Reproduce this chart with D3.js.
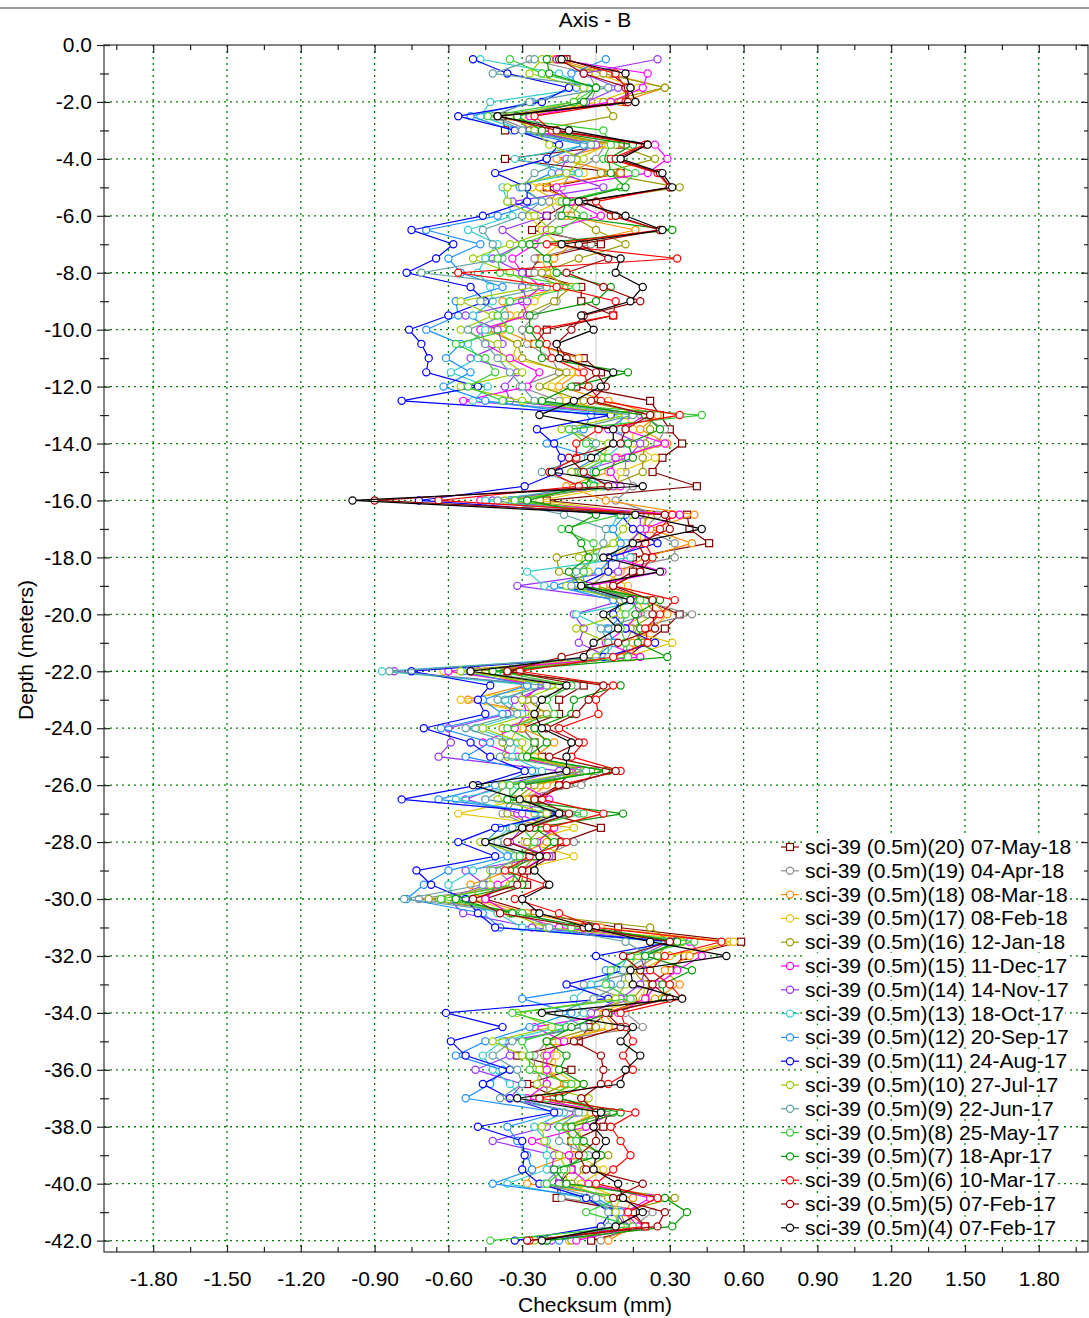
<!DOCTYPE html>
<html><head><meta charset="utf-8">
<script src="https://cdn.jsdelivr.net/npm/d3@7"></script>
<style>body{margin:0;background:#fff}svg{display:block}text{font-family:"Liberation Sans",Arial,sans-serif;fill:#000}</style>
</head><body><svg id="c" width="1089" height="1318"></svg>
<script>
const depths = [-0.5,-1.0,-1.5,-2.0,-2.5,-3.0,-3.5,-4.0,-4.5,-5.0,-5.5,-6.0,-6.5,-7.0,-7.5,-8.0,-8.5,-9.0,-9.5,-10.0,
-10.5,-11.0,-11.5,-12.0,-12.5,-13.0,-13.5,-14.0,-14.5,-15.0,-15.5,-16.0,-16.5,-17.0,-17.5,-18.0,-18.5,-19.0,-19.5,-20.0,
-20.5,-21.0,-21.5,-22.0,-22.5,-23.0,-23.5,-24.0,-24.5,-25.0,-25.5,-26.0,-26.5,-27.0,-27.5,-28.0,-28.5,-29.0,-29.5,-30.0,
-30.5,-31.0,-31.5,-32.0,-32.5,-33.0,-33.5,-34.0,-34.5,-35.0,-35.5,-36.0,-36.5,-37.0,-37.5,-38.0,-38.5,-39.0,-39.5,-40.0,
-40.5,-41.0,-41.5,-42.0];

const s4 = [-0.14,0.12,0.14,0.16,-0.40,-0.11,0.21,0.10,0.27,0.31,-0.07,0.12,0.27,-0.14,0.10,0.08,0.19,0.14,-0.06,-0.01,
-0.16,-0.15,0.07,0.02,-0.09,-0.23,0.07,0.07,-0.02,-0.18,0.19,-0.99,0.16,0.43,0.15,0.03,0.26,-0.06,0.14,0.03,
0.09,-0.01,-0.05,-0.51,-0.12,-0.22,-0.25,-0.22,-0.10,-0.12,-0.12,-0.50,-0.31,-0.15,-0.30,-0.45,-0.23,-0.25,-0.19,-0.30,
-0.23,-0.03,0.22,0.53,0.14,0.15,0.35,-0.22,0.15,0.10,0.18,0.12,0.10,-0.32,0.02,-0.01,0.04,0.00,-0.01,0.09,
0.11,0.19,0.08,-0.22];
const s5 = [-0.15,-0.05,0.13,0.13,-0.40,-0.16,0.21,0.08,0.26,0.30,-0.05,0.08,0.26,-0.07,0.05,-0.12,0.03,0.18,-0.05,-0.10,
-0.16,-0.12,0.00,0.04,-0.02,0.22,0.12,0.10,-0.11,-0.05,0.05,-0.90,0.28,0.30,0.17,0.20,0.18,0.07,0.23,0.23,
0.24,0.09,-0.14,-0.36,0.03,-0.03,-0.08,-0.20,-0.07,-0.19,0.08,-0.12,-0.25,-0.11,-0.27,-0.36,-0.20,-0.30,-0.32,-0.50,
-0.39,-0.05,0.30,0.11,0.18,0.23,0.30,0.04,0.10,-0.09,0.02,0.03,0.02,-0.06,0.00,0.00,0.00,-0.07,-0.04,0.19,
0.07,0.28,0.25,-0.28];
const s6 = [-0.13,0.08,0.12,0.12,-0.25,-0.18,0.20,0.06,0.25,0.30,0.00,0.06,0.26,-0.20,0.33,-0.56,-0.16,0.08,0.07,-0.24,
-0.20,-0.18,-0.05,-0.03,0.02,0.34,0.01,-0.08,-0.08,-0.19,-0.07,-0.64,0.31,0.26,0.20,0.23,0.18,0.07,0.32,0.26,
0.20,0.21,0.07,-0.31,0.07,0.00,0.01,-0.15,-0.05,-0.10,0.10,-0.15,-0.22,0.03,-0.20,-0.12,-0.27,-0.37,-0.20,-0.33,
-0.15,0.00,0.51,0.28,0.22,0.30,0.35,0.10,0.12,0.15,0.11,0.15,0.05,-0.23,0.16,0.06,0.10,0.14,0.07,0.00,
0.25,0.13,0.20,-0.27];
const s7 = [-0.20,-0.19,0.00,-0.05,-0.32,-0.22,0.15,0.05,0.06,0.12,-0.12,-0.14,0.31,-0.27,-0.20,-0.16,0.06,0.00,-0.27,-0.27,
-0.23,-0.22,0.13,-0.10,-0.22,0.20,0.26,0.13,0.15,0.00,-0.05,-0.28,0.00,-0.11,-0.06,-0.03,-0.11,-0.06,0.26,0.16,
0.18,0.17,0.29,-0.42,0.10,-0.09,-0.10,-0.25,-0.20,-0.28,0.04,-0.30,-0.36,0.11,-0.25,-0.17,-0.25,-0.35,-0.30,-0.57,
-0.34,-0.02,0.33,0.20,0.39,0.27,0.28,0.05,-0.10,-0.20,-0.12,-0.15,-0.05,-0.15,0.10,-0.10,-0.05,0.02,-0.17,-0.12,
0.28,0.37,0.31,-0.20];
const s8 = [-0.35,-0.22,0.00,-0.09,-0.44,0.03,0.06,0.03,0.16,0.10,-0.14,-0.05,-0.15,-0.30,-0.40,-0.39,-0.08,-0.35,-0.40,-0.35,
-0.57,-0.45,-0.41,-0.52,-0.38,0.43,-0.11,-0.04,0.05,-0.06,-0.01,-0.33,0.10,-0.14,-0.01,-0.01,-0.05,-0.05,0.18,0.12,
0.10,0.12,0.13,-0.40,-0.10,-0.20,-0.17,-0.36,-0.25,-0.30,0.05,-0.35,-0.35,-0.05,-0.30,-0.25,-0.31,-0.33,-0.34,-0.63,
-0.30,-0.10,0.40,0.14,0.06,0.04,0.14,-0.34,-0.12,-0.30,-0.27,-0.27,-0.10,-0.20,0.07,-0.15,-0.08,-0.05,-0.13,-0.20,
0.10,-0.04,0.15,-0.43];
const s9 = [-0.25,-0.42,0.05,-0.27,-0.42,-0.30,-0.02,-0.10,-0.25,-0.30,-0.22,-0.30,-0.46,-0.42,-0.38,-0.71,-0.20,-0.47,-0.37,-0.52,
-0.45,-0.40,-0.35,-0.30,-0.25,0.15,-0.09,0.00,-0.06,-0.22,-0.05,-0.40,-0.13,0.04,0.03,0.00,-0.08,-0.10,0.12,0.21,
0.02,0.05,0.05,-0.84,-0.20,-0.40,-0.32,-0.53,-0.35,-0.39,-0.04,-0.35,-0.45,-0.07,-0.34,-0.40,-0.30,-0.42,-0.46,-0.78,
-0.31,-0.19,0.12,0.22,0.11,0.10,-0.01,-0.15,-0.05,-0.34,-0.42,-0.32,-0.30,-0.39,-0.07,-0.15,-0.15,-0.03,-0.15,-0.21,
0.00,0.05,0.05,-0.20];
const s10 = [-0.22,-0.27,-0.05,-0.09,-0.35,-0.25,-0.19,-0.05,-0.12,-0.36,-0.36,-0.25,-0.18,-0.35,-0.50,-0.35,-0.25,-0.55,-0.42,-0.55,
-0.40,-0.38,-0.30,-0.55,-0.30,0.12,-0.14,0.05,0.03,-0.10,0.02,-0.37,0.15,0.11,0.07,-0.07,-0.03,-0.12,0.10,0.10,
-0.08,0.05,0.00,-0.55,-0.15,-0.30,-0.26,-0.46,-0.30,-0.30,-0.05,-0.38,-0.40,-0.20,-0.28,-0.47,-0.28,-0.43,-0.43,-0.60,
-0.35,-0.20,0.35,0.17,0.12,0.12,0.08,-0.32,-0.18,-0.42,-0.30,-0.23,-0.24,-0.03,-0.05,-0.22,-0.21,-0.15,-0.12,-0.12,
0.05,0.08,0.10,-0.25];
const s11 = [-0.50,-0.36,-0.11,-0.22,-0.56,-0.33,-0.15,-0.20,-0.41,-0.28,-0.28,-0.46,-0.75,-0.58,-0.65,-0.77,-0.51,-0.45,-0.60,-0.76,
-0.71,-0.68,-0.69,-0.48,-0.79,0.06,-0.24,-0.17,-0.14,-0.15,-0.29,-0.72,0.10,0.15,0.25,0.05,0.05,-0.08,0.10,0.07,
0.12,0.24,0.03,-0.75,-0.43,-0.48,-0.45,-0.70,-0.51,-0.43,-0.29,-0.48,-0.79,-0.15,-0.41,-0.56,-0.41,-0.73,-0.67,-0.53,
-0.48,-0.41,0.32,0.00,0.12,-0.12,0.05,-0.61,-0.38,-0.59,-0.53,-0.35,-0.46,-0.35,-0.17,-0.48,-0.30,-0.29,-0.30,-0.23,
-0.04,0.06,0.02,-0.33];
const s12 = [0.04,-0.10,-0.08,-0.26,-0.51,-0.34,-0.05,-0.20,-0.18,-0.31,-0.22,-0.40,-0.69,-0.47,-0.60,-0.55,-0.38,-0.57,-0.56,-0.69,
-0.55,-0.61,-0.51,-0.62,-0.45,-0.02,-0.05,-0.20,0.00,-0.10,0.03,-0.35,0.12,0.07,0.10,0.07,0.01,-0.17,0.07,0.11,
0.05,0.07,0.00,-0.54,-0.28,-0.46,-0.38,-0.63,-0.43,-0.53,-0.26,-0.41,-0.64,-0.18,-0.39,-0.45,-0.36,-0.60,-0.70,-0.77,
-0.46,-0.39,0.28,0.15,0.04,0.06,-0.30,-0.10,-0.27,-0.45,-0.57,-0.38,-0.43,-0.53,-0.15,-0.36,-0.32,-0.28,-0.26,-0.42,
0.00,0.10,0.08,-0.15];
const s13 = [-0.47,-0.15,-0.03,-0.43,-0.47,-0.30,-0.03,-0.33,-0.07,-0.38,-0.36,-0.34,-0.52,-0.40,-0.45,-0.48,-0.43,-0.42,-0.50,-0.45,
-0.52,-0.48,-0.59,-0.44,-0.50,0.10,0.10,0.11,0.04,-0.01,0.00,-0.45,0.09,0.06,0.12,0.14,-0.28,-0.21,0.20,-0.08,
0.04,0.08,0.03,-0.87,-0.25,-0.37,-0.30,-0.49,-0.32,-0.34,-0.22,-0.32,-0.57,-0.22,-0.35,-0.42,-0.33,-0.50,-0.60,-0.58,
-0.40,-0.30,0.25,0.13,0.10,-0.02,-0.09,-0.05,-0.15,-0.38,-0.46,-0.42,-0.35,-0.30,-0.13,-0.25,-0.20,-0.20,-0.20,-0.36,
-0.05,0.09,0.08,-0.20];
const s14 = [0.25,-0.05,0.09,-0.04,-0.33,-0.27,0.00,-0.12,-0.15,0.03,-0.34,-0.20,-0.38,-0.30,-0.42,-0.30,-0.30,-0.28,-0.53,-0.40,
-0.38,-0.51,-0.32,-0.37,-0.35,0.13,0.05,0.18,0.13,-0.08,0.07,-0.42,0.18,0.18,0.14,0.10,0.09,-0.32,0.11,-0.09,
-0.05,-0.07,0.05,-0.82,-0.20,-0.33,-0.36,-0.60,-0.59,-0.64,-0.15,-0.38,-0.53,-0.30,-0.30,-0.35,-0.19,-0.53,-0.45,-0.60,
-0.54,-0.26,0.30,0.18,0.20,0.18,0.10,-0.02,-0.05,-0.37,-0.35,-0.49,-0.30,-0.35,-0.08,-0.20,-0.42,-0.17,-0.18,-0.15,
0.05,0.08,0.12,-0.18];
const s15 = [-0.16,0.21,0.19,0.06,-0.27,-0.20,0.24,0.29,0.21,-0.16,-0.10,0.02,-0.20,-0.25,-0.34,-0.30,-0.22,-0.30,-0.28,-0.47,
-0.45,-0.35,-0.23,-0.28,-0.54,0.20,0.11,0.28,0.08,0.06,0.10,-0.47,0.34,0.20,0.20,0.07,0.27,-0.03,0.15,0.17,
0.12,0.04,0.18,-0.60,-0.22,-0.30,-0.28,-0.33,-0.46,-0.32,-0.07,-0.30,-0.19,-0.32,-0.17,-0.24,-0.21,-0.30,-0.40,-0.45,
-0.35,-0.15,0.38,0.43,0.33,0.25,0.20,0.09,-0.25,-0.13,-0.20,-0.20,-0.20,-0.28,0.07,-0.04,-0.26,-0.11,-0.10,-0.03,
0.22,0.12,0.17,-0.08];
const s16 = [-0.19,0.03,0.28,0.03,0.07,-0.25,0.08,0.24,0.02,0.34,-0.06,-0.10,0.00,0.12,-0.07,-0.22,-0.10,-0.17,-0.30,-0.44,
-0.32,-0.30,-0.12,-0.23,-0.05,0.22,0.22,0.20,0.19,0.19,0.05,-0.30,0.20,0.20,0.12,-0.16,-0.15,0.00,0.20,0.24,
0.14,0.19,0.10,-0.48,-0.24,-0.28,-0.20,-0.38,-0.38,-0.36,-0.02,-0.25,-0.33,-0.36,-0.22,-0.28,-0.25,-0.30,-0.30,-0.68,
-0.30,0.22,0.30,0.25,0.15,0.20,0.15,-0.05,0.00,-0.20,-0.21,-0.22,-0.12,-0.25,0.02,-0.12,-0.10,0.05,-0.05,-0.10,
0.32,0.10,0.12,-0.10];
const s17 = [-0.17,0.00,0.17,0.01,-0.30,-0.28,0.05,-0.08,-0.05,-0.26,-0.15,-0.27,-0.22,-0.15,-0.22,-0.20,-0.18,-0.25,-0.32,-0.42,
-0.32,-0.34,-0.10,-0.18,-0.12,0.12,0.15,0.15,0.24,0.10,0.08,-0.23,0.22,0.18,0.18,0.05,0.03,0.13,0.17,0.20,
0.10,0.31,0.12,-0.62,-0.18,-0.55,-0.25,-0.32,-0.35,-0.25,-0.05,-0.23,-0.30,-0.56,-0.09,-0.29,-0.09,-0.32,-0.35,-0.50,
-0.32,-0.23,0.56,0.30,0.18,0.20,0.19,0.00,0.05,-0.15,-0.16,-0.17,-0.08,-0.22,-0.02,-0.07,-0.06,-0.08,0.03,-0.06,
0.10,0.07,0.10,-0.11];
const s18 = [-0.16,0.05,0.28,0.10,-0.35,-0.22,0.07,-0.16,0.10,-0.23,-0.08,-0.12,0.16,-0.10,-0.17,-0.20,-0.12,-0.38,-0.35,-0.38,
-0.25,-0.07,-0.07,-0.15,0.05,0.25,0.18,0.29,0.09,0.05,-0.12,0.04,0.40,0.22,0.39,0.20,0.10,0.03,0.22,0.29,
0.23,0.15,0.15,-0.45,-0.29,-0.52,-0.22,-0.30,-0.17,-0.25,-0.08,-0.20,-0.28,-0.25,-0.18,-0.20,-0.33,-0.35,-0.51,-0.48,
-0.28,0.02,0.54,0.38,0.28,0.34,0.24,0.03,0.08,-0.17,-0.17,-0.20,-0.13,-0.24,0.00,-0.12,-0.10,-0.10,-0.26,-0.28,
0.15,0.12,0.15,0.05];
const s19 = [-0.27,-0.03,0.00,-0.02,-0.41,-0.27,0.04,0.00,-0.10,-0.14,-0.19,-0.15,-0.22,-0.02,-0.25,-0.25,-0.15,-0.16,-0.25,-0.30,
-0.28,-0.18,-0.15,-0.31,-0.15,0.18,0.28,0.25,0.12,0.12,0.15,0.08,0.25,0.20,0.32,0.32,0.05,-0.02,0.18,0.39,
0.15,0.12,0.10,-0.50,-0.08,-0.25,-0.22,-0.30,-0.25,-0.27,0.00,-0.06,-0.35,-0.38,-0.25,-0.09,-0.21,-0.40,-0.34,-0.72,
-0.30,-0.08,0.35,0.20,0.20,-0.05,0.12,0.12,0.19,-0.20,-0.25,-0.25,-0.20,-0.20,-0.02,-0.05,-0.10,-0.05,-0.12,-0.15,
-0.14,0.23,0.15,0.02];
const s20 = [-0.12,0.06,0.13,0.12,-0.38,-0.37,0.10,-0.37,0.10,-0.20,-0.10,-0.20,-0.26,0.02,-0.23,-0.27,-0.06,-0.06,0.07,-0.20,
-0.25,-0.05,0.02,-0.08,0.22,0.26,0.30,0.35,0.27,0.23,0.41,-0.20,0.37,0.38,0.46,0.15,0.15,0.05,0.20,0.34,
0.28,0.20,0.13,-0.36,-0.05,-0.15,-0.15,-0.30,-0.25,-0.22,-0.10,-0.15,-0.25,-0.20,0.02,-0.14,-0.18,-0.28,-0.28,-0.45,
-0.25,0.09,0.59,0.36,0.30,0.22,0.20,0.05,-0.03,-0.07,-0.32,-0.10,-0.28,-0.15,0.05,0.03,-0.10,-0.10,-0.10,-0.15,
-0.16,0.15,0.20,-0.02];

const seriesNames = ["sci-39 (0.5m)(20) 07-May-18","sci-39 (0.5m)(19) 04-Apr-18","sci-39 (0.5m)(18) 08-Mar-18",
"sci-39 (0.5m)(17) 08-Feb-18","sci-39 (0.5m)(16) 12-Jan-18","sci-39 (0.5m)(15) 11-Dec-17","sci-39 (0.5m)(14) 14-Nov-17",
"sci-39 (0.5m)(13) 18-Oct-17","sci-39 (0.5m)(12) 20-Sep-17","sci-39 (0.5m)(11) 24-Aug-17","sci-39 (0.5m)(10) 27-Jul-17",
"sci-39 (0.5m)(9) 22-Jun-17","sci-39 (0.5m)(8) 25-May-17","sci-39 (0.5m)(7) 18-Apr-17","sci-39 (0.5m)(6) 10-Mar-17",
"sci-39 (0.5m)(5) 07-Feb-17","sci-39 (0.5m)(4) 07-Feb-17"];
const seriesValues = [s20,s19,s18,s17,s16,s15,s14,s13,s12,s11,s10,s9,s8,s7,s6,s5,s4];
const seriesColors = ["#800000","#8c8c8c","#ff8c00","#e6c300","#999900","#ff00ff","#9933ff","#33cccc","#1e90ff","#0000ff",
"#99cc00","#5f9ea0","#33cc33","#009900","#ff0000","#990000","#000000"];

const xMajor = [-1.8,-1.5,-1.2,-0.9,-0.6,-0.3,0.0,0.3,0.6,0.9,1.2,1.5,1.8];
const xMinor = [-1.95,-1.65,-1.35,-1.05,-0.75,-0.45,-0.15,0.15,0.45,0.75,1.05,1.35,1.65,1.95];
const yMajor = [0,-2,-4,-6,-8,-10,-12,-14,-16,-18,-20,-22,-24,-26,-28,-30,-32,-34,-36,-38,-40,-42];
const yMinor = [-1,-3,-5,-7,-9,-11,-13,-15,-17,-19,-21,-23,-25,-27,-29,-31,-33,-35,-37,-39,-41];

const W=1089,H=1318, L=104, R=1088, T=45, B=1252;
const svg = d3.select("#c");
const x = d3.scaleLinear().domain([-2,2]).range([L,R]);
const y = d3.scaleLinear().domain([0,-42.4]).range([T,B]);
const FS = 21;

// top rule
svg.append("line").attr("x1",0).attr("x2",W).attr("y1",8).attr("y2",8).attr("stroke","#7a7a7a").attr("stroke-width",1.5);
svg.append("text").attr("x",595).attr("y",27).attr("text-anchor","middle").style("font-size",FS+"px").text("Axis - B");

// grid
const grid = svg.append("g");
grid.selectAll("line.gx").data(xMajor.filter(d=>d!==0)).join("line")
  .attr("x1",d=>x(d)).attr("x2",d=>x(d)).attr("y1",T).attr("y2",B)
  .attr("stroke","#008000").attr("stroke-width",1.3).attr("stroke-dasharray","2,4");
grid.selectAll("line.gy").data(yMajor.filter(d=>d!==0)).join("line")
  .attr("x1",L).attr("x2",R).attr("y1",d=>y(d)).attr("y2",d=>y(d))
  .attr("stroke","#008000").attr("stroke-width",1.3).attr("stroke-dasharray","2,4");
svg.append("line").attr("x1",x(0)).attr("x2",x(0)).attr("y1",T).attr("y2",B).attr("stroke","#c8c8c8").attr("stroke-width",1);

// frame
svg.append("rect").attr("x",L).attr("y",T).attr("width",R-L).attr("height",B-T).attr("fill","none").attr("stroke","#333").attr("stroke-width",1.2);

// axes
const gl = svg.append("g").attr("transform",`translate(${L},0)`)
  .call(d3.axisLeft(y).tickValues(yMajor).tickSize(7).tickPadding(5).tickFormat(d=>d.toFixed(1)));
gl.selectAll(".tick line").attr("x1",6);
const glm = svg.append("g").attr("transform",`translate(${L},0)`)
  .call(d3.axisLeft(y).tickValues(yMinor).tickSize(4).tickFormat(""));
glm.selectAll(".tick line").attr("x1",5);
const gr = svg.append("g").attr("transform",`translate(${R},0)`)
  .call(d3.axisRight(y).tickValues(yMajor).tickSize(-7).tickFormat(""));
const grm = svg.append("g").attr("transform",`translate(${R},0)`)
  .call(d3.axisRight(y).tickValues(yMinor).tickSize(-4).tickFormat(""));
const gt = svg.append("g").attr("transform",`translate(0,${T})`)
  .call(d3.axisTop(x).tickValues(xMajor).tickSize(-8).tickFormat(""));
const gtm = svg.append("g").attr("transform",`translate(0,${T})`)
  .call(d3.axisTop(x).tickValues(xMinor).tickSize(-5).tickFormat(""));
const gb = svg.append("g").attr("transform",`translate(0,${B})`)
  .call(d3.axisBottom(x).tickValues(xMajor).tickSize(-7).tickPadding(19).tickFormat(d=>d.toFixed(2)));
const gbm = svg.append("g").attr("transform",`translate(0,${B})`)
  .call(d3.axisBottom(x).tickValues(xMinor).tickSize(-5).tickFormat(""));
[gl,glm,gr,grm,gt,gtm,gb,gbm].forEach(g=>{
  g.select(".domain").remove();
  g.selectAll(".tick line").attr("stroke","#222").attr("stroke-width",1.2);
  g.selectAll("text").style("font-size",FS+"px").attr("fill","#000").style("font-family",'"Liberation Sans",Arial,sans-serif');
});

svg.append("text").attr("transform","translate(33,650) rotate(-90)").attr("text-anchor","middle").style("font-size",FS+"px").text("Depth (meters)");
svg.append("text").attr("x",595).attr("y",1312).attr("text-anchor","middle").style("font-size",FS+"px").text("Checksum (mm)");

// series
const line = d3.line().x(d=>x(d[0])).y(d=>y(d[1]));
seriesValues.forEach((vals,i)=>{
  const pts = vals.map((v,j)=>[v,depths[j]]);
  const g = svg.append("g");
  g.append("path").attr("d",line(pts)).attr("fill","none").attr("stroke",seriesColors[i]).attr("stroke-width",1.2);
  if(i===0){
    g.selectAll("rect").data(pts).join("rect").attr("x",d=>x(d[0])-3.5).attr("y",d=>y(d[1])-3.5).attr("width",7).attr("height",7)
      .attr("fill","#fff").attr("stroke",seriesColors[i]).attr("stroke-width",1.2);
  } else {
    g.selectAll("circle").data(pts).join("circle").attr("cx",d=>x(d[0])).attr("cy",d=>y(d[1])).attr("r",3.6)
      .attr("fill","#fff").attr("stroke",seriesColors[i]).attr("stroke-width",1.2);
  }
});

// legend
const lg = svg.append("g");
seriesNames.forEach((n,i)=>{
  const cy = 847 + i*23.8;
  const g = lg.append("g");
  const bg = g.append("rect").attr("fill","#fff");
  g.append("line").attr("x1",781).attr("x2",799).attr("y1",cy).attr("y2",cy).attr("stroke",seriesColors[i]).attr("stroke-width",1.2);
  if(i===0) g.append("rect").attr("x",786.5).attr("y",cy-3.5).attr("width",7).attr("height",7).attr("fill","#fff").attr("stroke",seriesColors[i]).attr("stroke-width",1.2);
  else g.append("circle").attr("cx",790).attr("cy",cy).attr("r",3.6).attr("fill","#fff").attr("stroke",seriesColors[i]).attr("stroke-width",1.2);
  const t = g.append("text").attr("x",805).attr("y",cy+7).style("font-size",FS+"px").text(n);
  const bb = t.node().getBBox();
  bg.attr("x",bb.x-1).attr("y",bb.y+1).attr("width",bb.width+2).attr("height",bb.height-2);
});
</script></body></html>
